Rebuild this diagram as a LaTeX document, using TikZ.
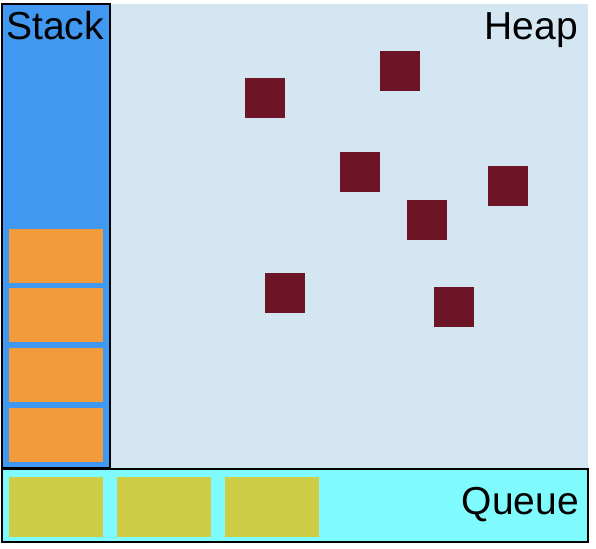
\documentclass[tikz,border=0pt]{standalone}
\usepackage{fontspec}
\setmainfont{Liberation Sans}
\usetikzlibrary{positioning}
\definecolor{stackblue}{HTML}{4098F1}
\definecolor{heapblue}{HTML}{D4E6F2}
\definecolor{queuecyan}{HTML}{7FFBFD}
\definecolor{frameorange}{HTML}{F29B3C}
\definecolor{taskyellow}{HTML}{CECB45}
\definecolor{objred}{HTML}{6D1526}
\tikzset{
  area/.style={rectangle, inner sep=0pt, outer sep=0pt, anchor=north west},
  region/.style={area, draw=black, line width=1.6pt},
  frame/.style={area, fill=frameorange, minimum width=94pt, minimum height=54pt},
  task/.style={area, fill=taskyellow, minimum width=94pt, minimum height=60pt},
  obj/.style={area, fill=objred, minimum width=40pt, minimum height=40pt},
  title/.style={font=\fontsize{39}{39}\selectfont, inner sep=0pt}
}
\begin{document}
\begin{tikzpicture}[x=1pt,y=-1pt]
\useasboundingbox (0,0) rectangle (596,548);
% regions
\node[area, fill=heapblue, minimum width=478pt, minimum height=464pt] (heap) at (110,4) {};
\node[region, fill=stackblue, minimum width=108pt, minimum height=464pt] (stack) at (2,4) {};
\node[region, fill=queuecyan, minimum width=586pt, minimum height=73pt] (queue) at (2,469) {};
% labels
\node[title, anchor=base west] (stacklabel) at (6,40) {Stack};
\node[title, anchor=base east] (heaplabel) at (578,40) {Heap};
\node[title, anchor=base east] (queuelabel) at (579,514) {Queue};
% stack frames
\node[frame] (f1) at (9,229) {};
\node[frame] (f2) at (9,288) {};
\node[frame] (f3) at (9,348) {};
\node[frame] (f4) at (9,408) {};
% queued tasks
\node[task] (t1) at (9,477) {};
\node[task] (t2) at (117,477) {};
\node[task] (t3) at (225,477) {};
% heap objects
\node[obj] (o1) at (245,78) {};
\node[obj] (o2) at (380,51) {};
\node[obj] (o3) at (340,152) {};
\node[obj] (o4) at (488,166) {};
\node[obj] (o5) at (407,200) {};
\node[obj] (o6) at (265,273) {};
\node[obj] (o7) at (434,287) {};
\end{tikzpicture}
\end{document}
